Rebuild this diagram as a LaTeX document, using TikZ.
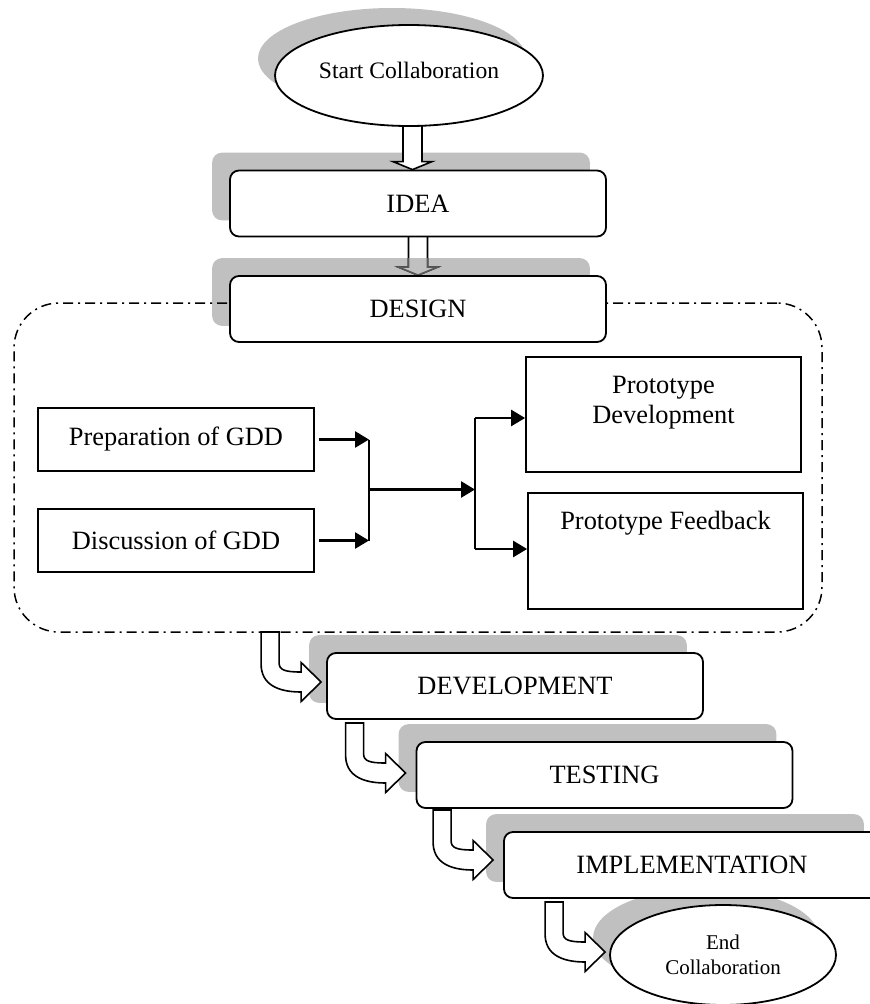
\documentclass[tikz,border=0pt]{standalone}
\usepackage{fontspec}
\setmainfont{Liberation Serif}
\usetikzlibrary{shapes.geometric,arrows.meta,calc}
\definecolor{shadowc}{RGB}{192,192,192}
\newcommand\mainfs{\fontsize{26.4}{30}\selectfont}
\newcommand\startfs{\fontsize{23.6}{27}\selectfont}
\newcommand\finfs{\fontsize{21}{25}\selectfont}
\pgfdeclarelayer{shadows}
\pgfdeclarelayer{arrows}
\pgfsetlayers{shadows,arrows,main}
\tikzset{
  box/.style={draw, line width=1.8pt, rounded corners=9pt, minimum width=376pt, minimum height=66pt, fill=white, inner sep=0pt, font=\mainfs},
  ibox/.style={draw, line width=1.8pt, fill=white, inner sep=0pt, font=\mainfs},
  oval/.style={ellipse, draw, line width=1.8pt, fill=white, inner sep=0pt},
  shd/.style={fill=shadowc, rounded corners=10pt},
  hollow/.style={draw, fill=white, line width=1.6pt, line join=miter},
  hollowg/.style={draw=gray!70!black, fill=shadowc, line width=1.6pt, line join=miter},
  link/.style={line width=2pt},
  arr/.style={line width=2.6pt, -{Triangle[length=14pt,width=16pt]}},
  grpbox/.style={draw, line width=1.5pt, rounded corners=45pt, dash pattern=on 10pt off 5pt on 2pt off 5pt, minimum width=808pt, minimum height=329pt, inner sep=0pt},
  downarr/.pic={\path[hollow] (0,0) -- (-19.5,-8) -- (-9.5,-8) -- (-9.5,-#1) -- (9.5,-#1) -- (9.5,-8) -- (19.5,-8) -- cycle;},
  downarrg/.pic={\path[hollowg] (0,0) -- (-19.5,-8) -- (-9.5,-8) -- (-9.5,-#1) -- (9.5,-#1) -- (9.5,-8) -- (19.5,-8) -- cycle;},
  bentarr/.pic={\path[hollow] (0,0) -- (-20,19.5) -- (-20,10) .. controls (-44,10) and (-60,2) .. (-60,-18) -- (-60,-50) -- (-42,-50) -- (-42,-19) .. controls (-42,-12) and (-36,-10) .. (-20,-10) -- (-20,-19.5) -- cycle;}
}
\begin{document}
\begin{tikzpicture}[x=1pt,y=-1pt]
\path[use as bounding box] (0,0) rectangle (870,1004);
\clip (0,0) rectangle (870,1004);

% main nodes
\node[oval, minimum width=268pt, minimum height=101pt, font=\startfs] (start) at (409,75.5) {\raisebox{11pt}{Start Collaboration}};
\node[box] (idea) at (418,203.5) {IDEA};
\node[box] (design) at (418,309) {DESIGN};
\node[box] (dev) at (515,686) {DEVELOPMENT};
\node[box] (test) at (604.5,775) {TESTING};
\node[box] (impl) at (692,865) {IMPLEMENTATION};
\node[oval, minimum width=226pt, minimum height=100pt, font=\finfs, align=center] (fin) at (723,955) {End\\Collaboration};

\node[ibox, minimum width=276pt, minimum height=63pt] (prep) at (176,439.5) {Preparation of GDD};
\node[ibox, minimum width=276pt, minimum height=63pt] (disc) at (176,540.5) {Discussion of GDD};
\node[ibox, minimum width=275pt, minimum height=115pt,
  label={[anchor=north, align=center, font=\mainfs, inner sep=0pt, yshift=-20pt]north:Prototype\\Development}] (pd) at (663.5,414.5) {};
\node[ibox, minimum width=275pt, minimum height=116pt,
  label={[anchor=north, align=center, font=\mainfs, inner sep=0pt, yshift=-19pt]north:Prototype Feedback}] (pf) at (665.5,551) {};

% inner connectors
\coordinate (j1) at (369,489.5);
\coordinate (j2) at (475,489.5);
\coordinate (pdin) at ($(pd.west)+(0,3.5)$);
\coordinate (pfin) at ($(pf.west)+(0,-2)$);
\draw[arr] ([xshift=4pt]prep.east) -- (prep.east -| j1);
\draw[arr] ([xshift=4pt]disc.east) -- (disc.east -| j1);
\draw[link] (prep.east -| j1) -- (disc.east -| j1);
\draw[arr] (j1) -- (j2);
\draw[link] (pdin -| j2) -- (pfin -| j2);
\draw[arr] (pdin -| j2) -- (pdin);
\draw[arr] (pfin -| j2) -- (pfin);

% shadows
\begin{pgfonlayer}{shadows}
\fill[shadowc] ([shift={(-17,-17)}]start.center) ellipse [x radius=134pt, y radius=50.5pt];
\foreach \n in {idea,design,dev,test,impl}
  \fill[shd] ([shift={(-17,-17)}]\n.south west) rectangle ([shift={(-17,-17)}]\n.north east);
\fill[shadowc] ([shift={(-17,-17)}]fin.center) ellipse [x radius=113pt, y radius=50pt];
\end{pgfonlayer}

% arrows and group box
\begin{pgfonlayer}{arrows}
\pic at ([xshift=-5.5pt]idea.north) {downarr=44};
\pic at (design.north) {downarr=39};
\begin{scope}
\clip ([shift={(-17,-17)}]design.south west) rectangle ([shift={(-17,-17)}]design.north east);
\pic at (design.north) {downarrg=39};
\end{scope}
\node[grpbox] (grp) at (418,467.5) {};
\pic at ([shift={(-5,-4)}]dev.west) {bentarr};
\pic at ([shift={(-10,-2)}]test.west) {bentarr};
\pic at ([shift={(-10,-5)}]impl.west) {bentarr};
\pic at ([shift={(-4,-3)}]fin.west) {bentarr};
\end{pgfonlayer}
\end{tikzpicture}
\end{document}
